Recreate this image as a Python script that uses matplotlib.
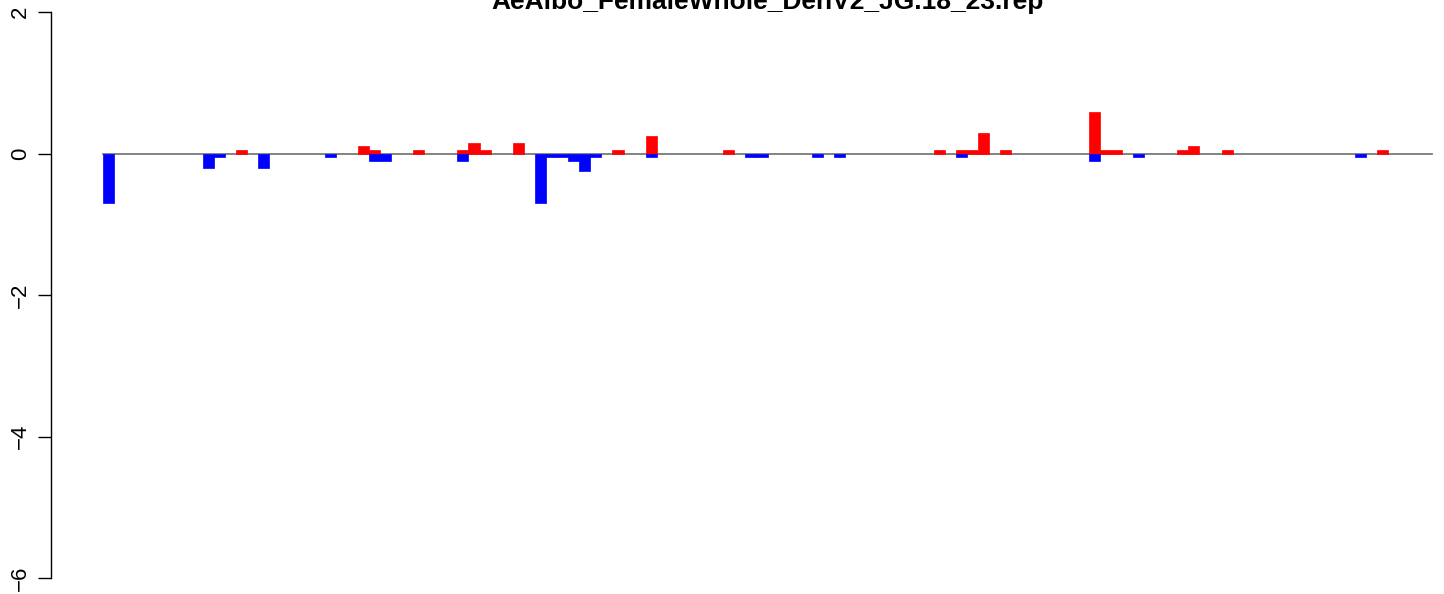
import matplotlib
matplotlib.use("Agg")
import matplotlib.pyplot as plt

title = "AeAlbo_FemaleWhole_DenV2_JG.18_23.rep"
n_positions = 120

red_pos = [12, 23, 24, 28, 32, 33, 34, 37, 46, 49, 56, 75, 77, 78, 79, 81,
           89, 90, 91, 97, 98, 101, 115]
red_vals = [0.05, 0.1, 0.05, 0.05, 0.05, 0.15, 0.05, 0.15, 0.05, 0.25, 0.05,
            0.05, 0.05, 0.05, 0.29, 0.05, 0.58, 0.05, 0.05, 0.05, 0.1, 0.05, 0.05]

blue_pos = [0, 9, 10, 14, 20, 24, 25, 32, 39, 40, 41, 42, 43, 44, 49, 58, 59,
            64, 66, 77, 89, 93, 113]
blue_vals = [-0.7, -0.2, -0.05, -0.2, -0.05, -0.1, -0.1, -0.1, -0.7, -0.05,
             -0.05, -0.1, -0.25, -0.05, -0.05, -0.05, -0.05, -0.05, -0.05,
             -0.05, -0.1, -0.05, -0.05]

y_ticks = [-6, -4, -2, 0, 2]

plt.rcParams['font.family'] = ['Liberation Sans', 'DejaVu Sans']

W, H = 1444, 594
fig = plt.figure(figsize=(W / 100, H / 100), dpi=100)
ax = fig.add_axes([51 / W, 0, (W - 51) / W, 1])

ax.plot([0, n_positions], [0, 0], color='#6e6e6e', lw=1.2, zorder=1)
ax.bar([p + 0.5 for p in red_pos], red_vals, width=1.0, color='#ff0000',
       edgecolor='#ff0000', linewidth=0.5, zorder=2)
ax.bar([p + 0.5 for p in blue_pos], blue_vals, width=1.0, color='#0000ff',
       edgecolor='#0000ff', linewidth=0.5, zorder=2)

ax.set_xlim(-4.695, 121.08)
ax.set_ylim(-6.226, 2.170)

for s in ['top', 'right', 'bottom']:
    ax.spines[s].set_visible(False)
ax.spines['left'].set_bounds(-6, 2)
ax.spines['left'].set_linewidth(1.0)
ax.set_xticks([])
ax.set_yticks(y_ticks)
ax.set_yticklabels([str(t).replace('-', '\u2212') for t in y_ticks],
                   rotation=90, va='center', fontsize=16)
ax.tick_params(axis='y', length=9.4, width=1.0, pad=5)

fig.text(768 / W, 585 / H, title, ha='center', va='baseline',
         fontsize=19, fontweight='bold')

fig.savefig('out.png', dpi=100)
